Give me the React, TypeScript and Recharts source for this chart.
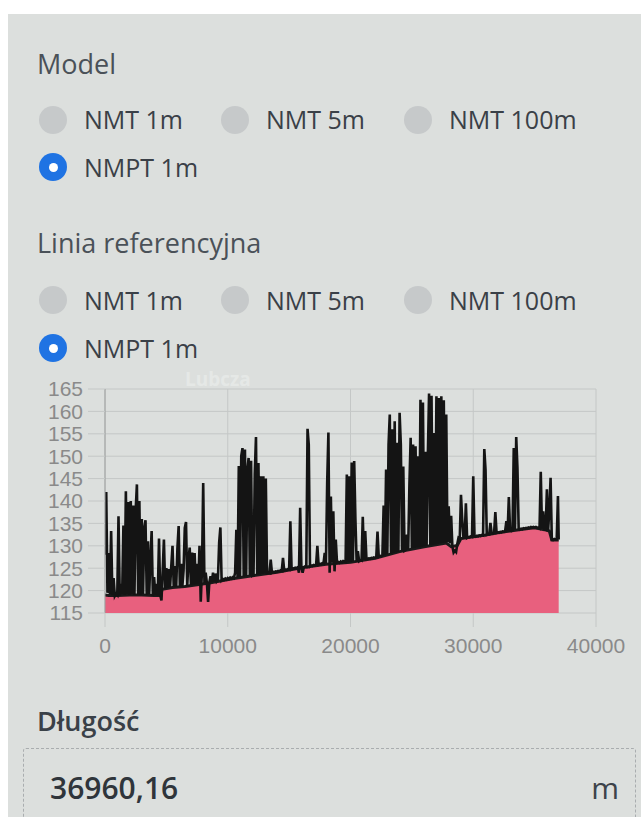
import React from 'react';
import { ComposedChart, Area, Line, XAxis, YAxis, CartesianGrid } from 'recharts';

// ---- data ----
const X_TICKS = [0, 10000, 20000, 30000, 40000];
const Y_TICKS = [115, 120, 125, 130, 135, 140, 145, 150, 155, 160, 165];

const MODEL_OPTIONS = ['NMT 1m', 'NMT 5m', 'NMT 100m'];
const SELECTED_OPTION = 'NMPT 1m';

const PROFILE_LENGTH = 36960;
const SAMPLE_STEP = 100;

// surface elevation (NMPT), one value every 100 m, row = 1 km
const SURFACE = [
  128, 142, 119.5, 128.4, 119.2, 133.3, 119, 122.8, 118.8, 119.3,
  119, 136.6, 118.9, 121.5, 119.2, 134.5, 119, 142.2, 119.2, 139.8,
  119, 140, 119.2, 139, 119, 138, 143.7, 119.1, 140, 119,
  136, 119.2, 134, 135.7, 119, 131, 119.2, 127, 133.3, 118.8,
  123, 119, 121.5, 118.9, 131.6, 119, 117.8, 124.5, 131.4, 120.4,
  125, 120.6, 124.8, 120.7, 125.5, 130, 120.8, 125.5, 120.8, 129.5,
  134.4, 120.9, 126, 120.9, 124.5, 134, 135.3, 121, 127, 129.6,
  121.2, 128.5, 121.3, 128.4, 121.4, 126, 121.4, 130, 117.5, 124.5,
  144, 121.6, 124, 121.7, 117.5, 121.8, 123.2, 121.9, 124, 122,
  123.8, 122.1, 122.5, 130.7, 134.1, 122.3, 122.6, 122.4, 122.7, 122.5,
  122.8, 122.6, 122.9, 122.7, 123, 122.8, 124, 133.6, 122.9, 147.8,
  123, 150, 151.8, 123.1, 151.5, 123.2, 147, 149.6, 123.3, 149,
  123.4, 123.6, 146, 154.3, 123.5, 148.5, 123.6, 145.5, 123.7, 145.5,
  123.8, 145, 123.9, 124, 123.9, 126.9, 124, 124.2, 124.1, 124.3,
  124.2, 124.4, 124.3, 124.5, 124.4, 127.3, 124.5, 124.7, 124.6, 124.8,
  124.7, 135.5, 124.8, 125, 124.9, 125.1, 125, 125.2, 124, 138.5,
  125.1, 124, 125.2, 125.4, 125.3, 156.1, 152.6, 125.4, 125.6, 125.5,
  125.7, 125.6, 125.8, 130, 125.8, 126, 125.9, 126.1, 126, 128.4,
  126.1, 144, 155.3, 124, 141, 126.2, 137.7, 124.3, 131.4, 126.3,
  126.4, 126.2, 126.5, 126.3, 126.6, 126.5, 126.4, 145.9, 126.3, 145.5,
  126.4, 148.6, 126.5, 148.9, 136, 126.4, 128.8, 126.6, 126.8, 126.7,
  136.5, 126.9, 133.3, 127, 127.1, 127.2, 127.1, 127.3, 127.2, 127.4,
  127.3, 127.5, 133.2, 127.6, 127.8, 127.7, 127.9, 139, 127.9, 147,
  128.1, 152.6, 159.3, 128.2, 156, 128.4, 157.8, 128.5, 153, 128.6,
  159.7, 152.6, 128.8, 147.7, 128.9, 129.1, 132.5, 129.2, 143.7, 154.1,
  129.4, 152.6, 129.5, 152.2, 129.6, 150, 129.7, 162.6, 129.8, 162,
  129.9, 151, 130, 150, 164, 130.1, 163.5, 130.2, 155.2, 130.3,
  163.4, 130.4, 163, 130.5, 163.4, 130.6, 162.5, 130.7, 159.3, 130.8,
  138.8, 130.5, 136.7, 129.8, 128.5, 128.9, 128.6, 130.4, 131.8, 131.6,
  141.4, 135.9, 131.8, 131.9, 139.5, 131.8, 132, 131.9, 132.1, 132,
  145.5, 132.1, 132, 132.2, 132.1, 132.3, 132.2, 132.4, 132.3, 151.6,
  147, 132.5, 132.7, 132.6, 135.1, 132.8, 132.7, 132.9, 137.5, 132.9,
  133, 132.9, 133.1, 133, 133.2, 133.1, 133.3, 135.5, 133.2, 140.9,
  133.4, 133.3, 133.5, 151.8, 133.6, 154.3, 147.4, 133.8, 133.6, 133.8,
  133.7, 133.9, 133.8, 134, 133.9, 134.1, 134, 134.2, 134.1, 134.2,
  134.1, 134.2, 134, 134.1, 133.9, 146.5, 133.8, 137.7, 133.7, 133.6,
  142.6, 133.5, 138, 145.2, 131.4, 131.3, 131.5, 131.4, 131.5, 141.1,
  131.4,
];

// reference terrain (pink fill)
const GROUND_DIST = [0, 300, 1000, 2000, 3000, 4000, 4550, 4650, 5500, 6500, 7500, 8500, 9500, 10500, 12000, 14000, 16000, 18000, 20000, 22000, 24000, 26000, 27800, 28200, 28700, 29000, 30000, 31000, 32000, 33000, 34000, 35000, 35800, 36200, 36400, 36960];
const GROUND_ELEV = [119, 118.9, 118.9, 119, 119, 118.9, 118.9, 120.3, 120.7, 120.9, 121.3, 121.7, 122.2, 122.7, 123.3, 124.1, 125.1, 125.9, 126.3, 127.2, 128.7, 129.8, 130.6, 129.8, 130.1, 131.6, 132, 132.4, 132.9, 133.3, 133.7, 134, 133.6, 133.3, 131.3, 131.3];

const surfaceData = SURFACE.map((v, i) => ({ d: Math.min(i * SAMPLE_STEP, PROFILE_LENGTH), v }));
const groundData = GROUND_DIST.map((d, i) => ({ d, g: GROUND_ELEV[i] }));

// ---- styles ----
const UI_FONT = '"Open Sans", "Noto Sans", sans-serif';
const TICK_FONT = '"Liberation Sans", Arial, sans-serif';
const GRID = '#c4c7c6';

const Txt: React.FC<{ x: number; cy: number; fs: number; color: string; weight?: number; children: React.ReactNode }> = ({ x, cy, fs, color, weight = 400, children }) => (
  <div
    style={{
      position: 'absolute',
      left: x,
      top: cy - 0.531 * fs,
      fontSize: fs,
      lineHeight: 1,
      color,
      fontWeight: weight,
      fontFamily: UI_FONT,
      whiteSpace: 'nowrap',
    }}
  >
    {children}
  </div>
);

const Radio: React.FC<{ cx: number; cy: number; selected?: boolean }> = ({ cx, cy, selected }) => (
  <div
    style={{
      position: 'absolute',
      left: cx - 14,
      top: cy - 14,
      width: 28,
      height: 28,
      borderRadius: '50%',
      background: selected ? '#1f73e3' : '#c6c9ca',
    }}
  >
    {selected && (
      <div
        style={{
          position: 'absolute',
          left: 9.5,
          top: 9.5,
          width: 9,
          height: 9,
          borderRadius: '50%',
          background: '#ffffff',
        }}
      />
    )}
  </div>
);

const RADIO_X = [53, 235, 418];
const LABEL_X = [84, 266, 449];

const RadioGroup: React.FC<{ row1: number; row2: number }> = ({ row1, row2 }) => (
  <>
    {MODEL_OPTIONS.map((label, i) => (
      <React.Fragment key={label}>
        <Radio cx={RADIO_X[i]} cy={row1 - 1} />
        <Txt x={LABEL_X[i]} cy={row1} fs={25} color="#3a4047">{label}</Txt>
      </React.Fragment>
    ))}
    <Radio cx={RADIO_X[0]} cy={row2 - 1} selected />
    <Txt x={LABEL_X[0]} cy={row2} fs={25} color="#3a4047">{SELECTED_OPTION}</Txt>
  </>
);

export default function App() {
  return (
    <div style={{ position: 'absolute', left: 0, top: 0, width: 641, height: 817, overflow: 'hidden', background: '#ffffff' }}>
      <div style={{ position: 'absolute', left: 8, top: 14, width: 633, height: 803, background: '#dcdfdd' }} />

      <Txt x={37} cy={64} fs={27} color="#4a5158">Model</Txt>
      <RadioGroup row1={120.5} row2={168} />

      <Txt x={37} cy={243} fs={27} color="#4a5158">Linia referencyjna</Txt>
      <RadioGroup row1={300.8} row2={349} />

      <div
        style={{
          position: 'absolute',
          left: 185,
          top: 370,
          fontSize: 19,
          lineHeight: 1,
          fontWeight: 700,
          fontFamily: UI_FONT,
          color: 'rgba(255,255,255,0.3)',
        }}
      >
        Lubcza
      </div>

      <div style={{ position: 'absolute', left: 20, top: 375 }}>
        <ComposedChart width={620} height={292} margin={{ top: 14, right: 44, left: 0, bottom: 0 }}>
          <CartesianGrid stroke={GRID} strokeWidth={1} />
          <XAxis
            dataKey="d"
            type="number"
            domain={[0, 40000]}
            ticks={X_TICKS}
            interval={0}
            allowDataOverflow
            height={54}
            tickSize={14}
            tickMargin={11}
            tickLine={{ stroke: GRID }}
            axisLine={false}
            tick={{ fill: '#8a8a8a', fontSize: 21, fontFamily: TICK_FONT }}
          />
          <YAxis
            type="number"
            domain={[115, 165]}
            ticks={Y_TICKS}
            interval={0}
            allowDataOverflow
            width={85}
            tickSize={17}
            tickMargin={5}
            tickLine={{ stroke: GRID }}
            axisLine={{ stroke: '#9c9e9e' }}
            tick={{ fill: '#8a8a8a', fontSize: 21, fontFamily: TICK_FONT }}
          />
          <Area
            data={groundData}
            dataKey="g"
            type="linear"
            baseValue={115}
            fill="#e8607e"
            fillOpacity={1}
            stroke="#1a1a1a"
            strokeWidth={3}
            dot={false}
            activeDot={false}
            isAnimationActive={false}
          />
          <Line
            data={surfaceData}
            dataKey="v"
            type="linear"
            stroke="#141414"
            strokeWidth={2.6}
            dot={false}
            activeDot={false}
            isAnimationActive={false}
          />
        </ComposedChart>
      </div>

      <Txt x={37} cy={721} fs={27} color="#3a4148" weight={600}>Długość</Txt>
      <div
        style={{
          position: 'absolute',
          left: 23,
          top: 748,
          width: 613,
          height: 100,
          border: '1px dashed #a9adaf',
          borderRadius: 3,
          boxSizing: 'border-box',
        }}
      />
      <Txt x={50} cy={789} fs={30} color="#2f353b" weight={600}>36960,16</Txt>
      <div
        style={{
          position: 'absolute',
          right: 22,
          top: 789 - 0.531 * 30,
          fontSize: 30,
          lineHeight: 1,
          color: '#3d434a',
          fontFamily: UI_FONT,
        }}
      >
        m
      </div>
    </div>
  );
}
